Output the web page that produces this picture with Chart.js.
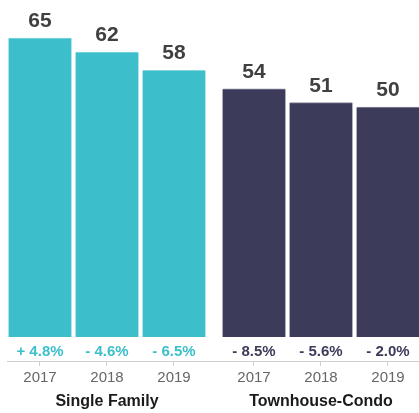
<!DOCTYPE html>
<html>
<head>
<meta charset="utf-8">
<style>
  html, body { margin: 0; padding: 0; background: #ffffff; }
  #wrap { width: 419px; height: 413px; position: relative; }
</style>
<script src="https://cdn.jsdelivr.net/npm/chart.js@4/dist/chart.umd.min.js"></script>
</head>
<body>
<div id="wrap"><canvas id="medianChart"></canvas></div>
<script>
const years = ['2017', '2018', '2019'];
const groupNames = ['Single Family', 'Townhouse-Condo'];
const singleFamily = [65, 62, 58];
const townhouseCondo = [54, 51, 50];
const singleFamilyChange = ['+ 4.8%', '- 4.6%', '- 6.5%'];
const townhouseCondoChange = ['- 8.5%', '- 5.6%', '- 2.0%'];

const TEAL = '#3dbfcb';
const NAVY = '#3c3c5a';
const FONT = '"Liberation Sans", Arial, Helvetica, sans-serif';

// extra space between the two groups, in category widths
const groupGap = 0.194;
const slot = (g, i) => g * (years.length + groupGap) + i;

const groups = [
  { name: groupNames[0], values: singleFamily, change: singleFamilyChange, color: TEAL, edge: '#86d6de' },
  { name: groupNames[1], values: townhouseCondo, change: townhouseCondoChange, color: NAVY, edge: '#8b8b9c' }
];

const tickValues = [];
groups.forEach((grp, g) => years.forEach((y, i) => tickValues.push(slot(g, i))));

const barLabels = {
  id: 'barLabels',
  afterDatasetsDraw(chart) {
    const { ctx } = chart;
    ctx.save();
    ctx.textAlign = 'center';
    groups.forEach((grp, g) => {
      const meta = chart.getDatasetMeta(g);
      meta.data.forEach((bar, i) => {
        ctx.fillStyle = '#404040';
        ctx.font = 'bold 21px ' + FONT;
        ctx.textBaseline = 'alphabetic';
        ctx.fillText(String(grp.values[i]), bar.x, bar.y - 11);

        ctx.fillStyle = grp.color;
        ctx.font = 'bold 15px ' + FONT;
        ctx.textBaseline = 'middle';
        ctx.fillText(grp.change[i], bar.x, 352);
      });
      const first = meta.data[0];
      const last = meta.data[meta.data.length - 1];
      ctx.fillStyle = '#1a1a1a';
      ctx.font = 'bold 16px ' + FONT;
      ctx.textBaseline = 'middle';
      ctx.fillText(grp.name, (first.x + last.x) / 2, 402);
    });
    ctx.restore();
  }
};

new Chart(document.getElementById('medianChart').getContext('2d'), {
  type: 'bar',
  plugins: [barLabels],
  data: {
    datasets: groups.map((grp, g) => ({
      label: grp.name,
      data: grp.values.map((v, i) => ({ x: slot(g, i), y: v })),
      backgroundColor: grp.color,
      borderColor: grp.edge,
      borderWidth: { top: 1, right: 0, bottom: 0, left: 0 },
      borderSkipped: 'bottom',
      base: 0,
      barThickness: 63,
      grouped: false
    }))
  },
  options: {
    responsive: true,
    maintainAspectRatio: false,
    animation: false,
    layout: { padding: { left: 7, right: 0, top: 0, bottom: 23 } },
    plugins: {
      legend: { display: false },
      tooltip: { enabled: false }
    },
    scales: {
      x: {
        type: 'linear',
        offset: false,
        min: -0.4925,
        max: slot(1, 2) + 0.4627,
        afterBuildTicks(scale) {
          scale.ticks = tickValues.map(v => ({ value: v }));
        },
        grid: {
          offset: false,
          drawOnChartArea: false,
          drawTicks: true,
          tickLength: 5,
          color: '#cfcfcf'
        },
        border: { display: true, color: '#cfcfcf', width: 1 },
        ticks: {
          autoSkip: false,
          maxRotation: 0,
          padding: 3,
          color: '#666666',
          font: { family: FONT, size: 15 },
          callback(value, index) {
            return years[index % years.length];
          }
        }
      },
      y: {
        display: false,
        min: -5.2,
        max: 73.3
      }
    }
  }
});
</script>
</body>
</html>
